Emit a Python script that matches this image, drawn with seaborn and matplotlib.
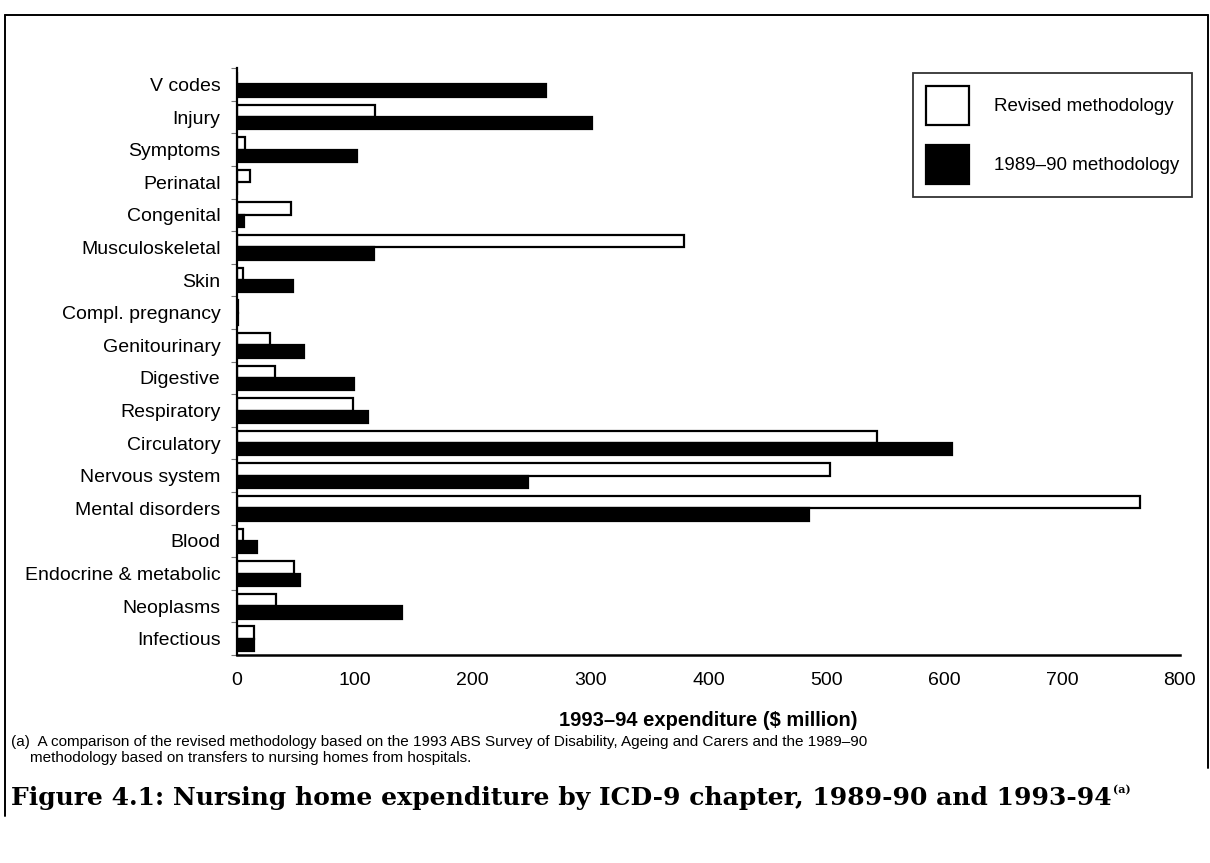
import numpy as np
import pandas as pd
import matplotlib
matplotlib.use("Agg")
import matplotlib.pyplot as plt
import seaborn as sns
from matplotlib.lines import Line2D

# chapters, top to bottom as in the figure
chapters = ["V codes", "Injury", "Symptoms", "Perinatal", "Congenital",
            "Musculoskeletal", "Skin", "Compl. pregnancy", "Genitourinary",
            "Digestive", "Respiratory", "Circulatory", "Nervous system",
            "Mental disorders", "Blood", "Endocrine & metabolic",
            "Neoplasms", "Infectious"]

# 1993-94 expenditure ($ million)
revised = [0, 117, 7, 11, 46, 379, 5, 1, 28, 32, 98, 543, 503, 766, 5, 48, 33, 14]
old_method = [262, 301, 102, 0, 6, 116, 47, 1, 57, 99, 111, 607, 247, 485, 17, 53, 140, 14]

series_names = ["Revised methodology", "1989\u201390 methodology"]
x_ticks = [0, 100, 200, 300, 400, 500, 600, 700, 800]

df = pd.DataFrame({
    "chapter": chapters * 2,
    "value": revised + old_method,
    "method": [series_names[0]] * len(chapters) + [series_names[1]] * len(chapters),
})

sns.set_theme(style="white")
plt.rcParams["font.family"] = ["Liberation Sans", "DejaVu Sans"]
plt.rcParams.update({"text.color": "black", "axes.labelcolor": "black",
                     "xtick.color": "black", "ytick.color": "black"})

fig = plt.figure(figsize=(12.1, 8.63), dpi=100)
ax = fig.add_axes([0.196, 0.241, 0.779, 0.680])

sns.barplot(data=df, x="value", y="chapter", hue="method", order=chapters,
            hue_order=series_names, palette=["white", "black"], width=0.76,
            edgecolor="black", linewidth=1.6, saturation=1, ax=ax, legend=True)

ax.set_xlim(0, 800)
ax.set_ylim(len(chapters) - 0.5, -0.5)
ax.set_xticks(x_ticks)
ax.set_xticklabels([str(t) for t in x_ticks], fontsize=14)
ax.set_xlabel("1993\u201394 expenditure ($ million)", fontsize=14.5,
              fontweight="bold", labelpad=16)
ax.set_ylabel("")
ax.tick_params(axis="y", which="major", length=0, labelsize=14, pad=12)
ax.tick_params(axis="x", which="major", length=5, width=0.8, color="#555555",
               direction="out", pad=7)
ax.set_yticks(np.arange(-0.5, len(chapters), 1.0), minor=True)
ax.tick_params(axis="y", which="minor", length=4, width=0.8, color="#777777",
               left=True)

for side in ["top", "right"]:
    ax.spines[side].set_visible(False)
ax.spines["left"].set_color("black")
ax.spines["left"].set_linewidth(1.6)
ax.spines["bottom"].set_color("black")
ax.spines["bottom"].set_linewidth(1.8)

# legend box with big square keys
handles, labels = ax.get_legend_handles_labels()
ax.legend(handles, labels, loc="upper right", bbox_to_anchor=(1.023, 1.008),
          frameon=True, fancybox=False, edgecolor="black", fontsize=13.5,
          handlelength=2.3, handleheight=2.8, labelspacing=1.1,
          borderpad=0.7, handletextpad=1.3)
ax.get_legend().get_frame().set_linewidth(1.3)

# footnote and caption
fig.text(0.009, 0.140, "(a)  A comparison of the revised methodology based on the 1993 ABS Survey "
         "of Disability, Ageing and Carers and the 1989\u201390",
         fontsize=11, va="center")
fig.text(0.025, 0.122, "methodology based on transfers to nursing homes from hospitals.",
         fontsize=11, va="center")
title = fig.text(0.009, 0.075, "Figure 4.1: Nursing home expenditure by ICD-9 chapter, "
                 "1989-90 and 1993-94",
                 fontsize=18, fontweight="bold", va="center",
                 family=["DejaVu Serif"])

# small superscript marker after the caption
renderer = fig.canvas.get_renderer()
bb = title.get_window_extent(renderer=renderer)
x_end = bb.x1 / fig.bbox.width
fig.text(x_end + 0.001, 0.085, "(a)", fontsize=8, fontweight="bold", va="center",
         family=["DejaVu Serif"])

# page frame
fig.add_artist(Line2D([0.004, 0.004], [0.983, 0.055], color="black", lw=1.4))
fig.add_artist(Line2D([0.004, 0.998], [0.983, 0.983], color="black", lw=1.4))
fig.add_artist(Line2D([0.998, 0.998], [0.983, 0.11], color="black", lw=1.4))

fig.savefig("out.png", dpi=100)
